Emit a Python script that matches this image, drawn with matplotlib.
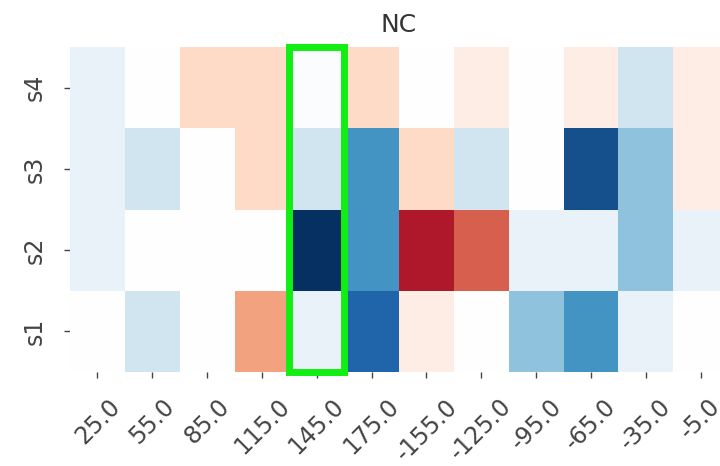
import numpy as np
import matplotlib
matplotlib.use('Agg')
import matplotlib.pyplot as plt
import seaborn as sns
from matplotlib.colors import LinearSegmentedColormap
from matplotlib.patches import Rectangle

angles = ['25.0', '55.0', '85.0', '115.0', '145.0', '175.0',
          '-155.0', '-125.0', '-95.0', '-65.0', '-35.0', '-5.0']
rows = ['s4', 's3', 's2', 's1']

s4 = [0.1, 0.0, -0.2, -0.2, 0.02, -0.2, 0.0, -0.1, 0.0, -0.1, 0.2, -0.1]
s3 = [0.1, 0.2, 0.0, -0.2, 0.2, 0.6, -0.2, 0.2, 0.0, 0.88, 0.4, -0.1]
s2 = [0.1, 0.0, 0.0, 0.0, 1.0, 0.6, -0.8, -0.6, 0.1, 0.1, 0.4, 0.1]
s1 = [0.0, 0.2, 0.0, -0.4, 0.1, 0.8, -0.1, 0.0, 0.4, 0.6, 0.1, 0.0]

highlight_col = '145.0'

# RdBu but with a pure white middle
cols = plt.cm.RdBu(np.linspace(0, 1, 11))
cols[5] = [1, 1, 1, 1]
cmap = LinearSegmentedColormap.from_list('rdbu_w', cols)

sns.set_style('ticks')
fig = plt.figure(figsize=(7.2, 4.66), dpi=100)
ax = fig.add_axes([70 / 720, 1 - 372 / 466, 658 / 720, 325 / 466])

data = np.array([s4, s3, s2, s1])
sns.heatmap(data, cmap=cmap, vmin=-1, vmax=1, cbar=False,
            xticklabels=angles, yticklabels=rows, ax=ax)

ax.set_title('NC', fontsize=18, color='#333333', pad=11)
ax.tick_params(axis='both', labelsize=17, colors='#444444', length=4, width=1)
ax.tick_params(axis='x', pad=12)
ax.tick_params(axis='y', pad=13)
plt.setp(ax.get_xticklabels(), rotation=45, ha='center')
plt.setp(ax.get_yticklabels(), rotation=90, va='center')

col = angles.index(highlight_col)
ax.add_patch(Rectangle((col, 0), 1, len(rows), fill=False,
                       edgecolor='#11ee11', lw=5, clip_on=False))

fig.savefig('out.png', dpi=100)
